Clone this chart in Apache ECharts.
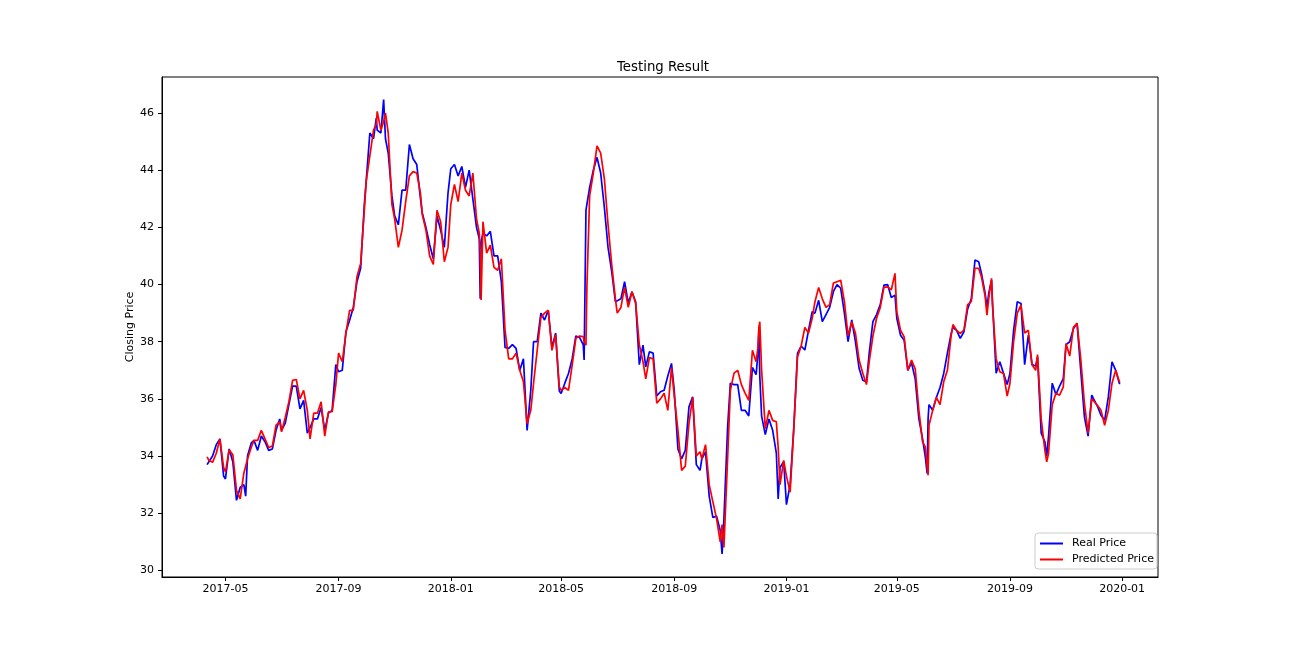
<!DOCTYPE html>
<html><head><meta charset="utf-8">
<script src="https://cdn.jsdelivr.net/npm/echarts@6.0.0/dist/echarts.min.js"></script>
<style>html,body{margin:0;padding:0;background:#fff}#c{width:1295px;height:648px}</style>
</head><body><div id="c"></div>
<script>
const dates = [
'2017-04-11','2017-04-13','2017-04-17','2017-04-21','2017-04-25','2017-04-29',
'2017-05-01','2017-05-05','2017-05-09','2017-05-13','2017-05-17','2017-05-21','2017-05-23','2017-05-25','2017-05-29',
'2017-06-01','2017-06-05','2017-06-09','2017-06-13','2017-06-17','2017-06-21','2017-06-25','2017-06-29',
'2017-07-01','2017-07-05','2017-07-09','2017-07-13','2017-07-17','2017-07-21','2017-07-25','2017-07-29',
'2017-08-01','2017-08-05','2017-08-09','2017-08-13','2017-08-17','2017-08-21','2017-08-25','2017-08-29',
'2017-09-01','2017-09-05','2017-09-09','2017-09-13','2017-09-17','2017-09-21','2017-09-25','2017-09-29',
'2017-10-01','2017-10-05','2017-10-09','2017-10-12','2017-10-13','2017-10-17','2017-10-20','2017-10-22','2017-10-25','2017-10-29',
'2017-11-01','2017-11-05','2017-11-09','2017-11-13','2017-11-17','2017-11-21','2017-11-25','2017-11-29',
'2017-12-01','2017-12-05','2017-12-09','2017-12-13','2017-12-17','2017-12-21','2017-12-25','2017-12-29',
'2018-01-01','2018-01-05','2018-01-09','2018-01-13','2018-01-17','2018-01-21','2018-01-25','2018-01-29',
'2018-02-01','2018-02-02','2018-02-03','2018-02-05','2018-02-09','2018-02-13','2018-02-17','2018-02-21','2018-02-25',
'2018-03-01','2018-03-05','2018-03-09','2018-03-13','2018-03-17','2018-03-21','2018-03-25','2018-03-29',
'2018-04-01','2018-04-05','2018-04-09','2018-04-13','2018-04-17','2018-04-21','2018-04-25','2018-04-29',
'2018-05-01','2018-05-05','2018-05-09','2018-05-13','2018-05-17','2018-05-21','2018-05-25','2018-05-26','2018-05-28','2018-05-29',
'2018-06-01','2018-06-05','2018-06-09','2018-06-13','2018-06-17','2018-06-21','2018-06-25','2018-06-29',
'2018-07-01','2018-07-05','2018-07-09','2018-07-13','2018-07-17','2018-07-21','2018-07-25','2018-07-29',
'2018-08-01','2018-08-05','2018-08-09','2018-08-13','2018-08-17','2018-08-21','2018-08-25','2018-08-29',
'2018-09-01','2018-09-05','2018-09-09','2018-09-13','2018-09-17','2018-09-21','2018-09-25','2018-09-29',
'2018-10-01','2018-10-05','2018-10-09','2018-10-13','2018-10-17','2018-10-21','2018-10-23','2018-10-25','2018-10-29',
'2018-11-01','2018-11-05','2018-11-09','2018-11-13','2018-11-17','2018-11-21','2018-11-25','2018-11-29',
'2018-12-01','2018-12-02','2018-12-03','2018-12-05','2018-12-09','2018-12-13','2018-12-17','2018-12-21','2018-12-23','2018-12-25','2018-12-29',
'2019-01-01','2019-01-05','2019-01-09','2019-01-13','2019-01-17','2019-01-21','2019-01-25','2019-01-29',
'2019-02-01','2019-02-05','2019-02-09','2019-02-13','2019-02-17','2019-02-21','2019-02-25',
'2019-03-01','2019-03-05','2019-03-09','2019-03-13','2019-03-17','2019-03-21','2019-03-25','2019-03-29',
'2019-04-01','2019-04-05','2019-04-09','2019-04-13','2019-04-17','2019-04-21','2019-04-25','2019-04-29',
'2019-05-01','2019-05-05','2019-05-09','2019-05-13','2019-05-17','2019-05-21','2019-05-25','2019-05-29',
'2019-06-01','2019-06-03','2019-06-04','2019-06-05','2019-06-09','2019-06-13','2019-06-17','2019-06-21','2019-06-25','2019-06-29',
'2019-07-01','2019-07-05','2019-07-09','2019-07-13','2019-07-17','2019-07-21','2019-07-25','2019-07-29',
'2019-08-01','2019-08-05','2019-08-07','2019-08-09','2019-08-12','2019-08-13','2019-08-17','2019-08-21','2019-08-25','2019-08-29',
'2019-09-01','2019-09-05','2019-09-09','2019-09-13','2019-09-17','2019-09-21','2019-09-25','2019-09-29',
'2019-10-01','2019-10-05','2019-10-09','2019-10-11','2019-10-13','2019-10-17','2019-10-21','2019-10-25','2019-10-29',
'2019-11-01','2019-11-05','2019-11-09','2019-11-13','2019-11-17','2019-11-21','2019-11-25','2019-11-29',
'2019-12-01','2019-12-05','2019-12-09','2019-12-13','2019-12-17','2019-12-21','2019-12-25','2019-12-29','2019-12-30'
];
const realPrice = [
33.7,33.8,34.0,34.4,34.6,33.3,
33.2,34.25,33.8,32.45,32.9,33.0,32.6,34.0,34.45,
34.55,34.2,34.7,34.5,34.2,34.25,34.9,35.3,
34.9,35.15,35.8,36.45,36.45,35.65,35.95,34.8,
35.0,35.3,35.3,35.7,34.9,35.5,35.6,37.2,
36.95,37.0,38.35,38.75,39.2,40.1,40.57,42.8,
43.6,45.3,45.1,45.82,45.4,45.3,46.47,45.1,44.6,43.1,
42.4,42.09,43.3,43.3,44.9,44.4,44.2,43.02,
42.5,42.0,41.4,40.9,42.4,41.9,41.3,43.2,
44.05,44.2,43.8,44.13,43.4,44.0,43.0,42.0,
41.6,39.5,41.5,41.8,41.7,41.86,41.0,41.0,40.1,
37.8,37.77,37.9,37.77,37.0,37.4,34.9,36.3,
38.0,38.0,39.0,38.76,39.1,37.8,38.3,36.28,
36.19,36.55,36.89,37.4,38.2,38.15,37.9,37.36,42.6,42.8,
43.4,44.0,44.45,43.9,42.7,41.3,40.45,39.4,
39.45,39.5,40.1,39.35,39.75,39.4,37.2,37.88,
37.12,37.65,37.6,36.1,36.25,36.3,36.8,37.24,
36.3,34.25,33.9,34.2,35.72,36.07,33.7,33.5,
33.9,34.15,32.6,31.85,31.9,31.4,30.58,31.8,35.0,
36.55,36.5,36.5,35.6,35.6,35.4,37.1,36.85,
37.6,38.4,36.8,35.4,34.75,35.3,34.9,34.1,32.5,33.6,33.8,
32.3,33.0,35.0,37.59,37.85,37.71,38.4,39.05,
39.0,39.45,38.7,38.95,39.2,39.75,40.0,
39.87,39.0,38.0,38.76,38.0,37.07,36.65,36.6,
37.6,38.7,38.95,39.3,39.98,40.0,39.55,39.63,
38.82,38.23,38.05,37.0,37.26,36.7,35.3,34.6,
33.97,33.39,35.3,35.8,35.6,36.05,36.4,36.89,37.6,38.27,
38.5,38.4,38.12,38.35,39.15,39.5,40.86,40.8,
40.4,39.7,39.2,39.7,40.16,39.4,36.9,37.3,36.9,36.5,
36.89,38.4,39.4,39.34,37.2,38.23,37.2,37.15,
37.47,34.8,34.5,34.0,34.7,36.55,36.15,36.45,36.71,
37.9,38.0,38.45,38.65,37.0,35.37,34.7,36.13,
36.0,35.75,35.43,35.25,36.07,37.3,37.0,36.54,36.54
];
const predictedPrice = [
33.97,33.85,33.78,34.1,34.6,33.6,
33.45,34.22,34.05,32.8,32.5,33.4,33.4,33.9,34.3,
34.55,34.55,34.9,34.6,34.3,34.35,35.08,35.2,
34.85,35.35,35.9,36.65,36.68,36.0,36.3,35.6,
34.6,35.5,35.5,35.9,34.7,35.55,35.55,36.5,
37.6,37.3,38.3,39.1,39.1,40.27,40.74,42.6,
43.6,44.5,45.4,45.6,46.06,45.4,45.7,46.0,45.3,42.8,
42.3,41.3,41.9,42.9,43.8,43.95,43.9,43.2,
42.45,41.9,41.0,40.7,42.6,42.2,40.8,41.3,
42.8,43.5,42.9,43.9,43.3,43.1,43.9,42.3,
41.8,41.2,39.46,42.2,41.1,41.38,40.6,40.5,40.9,
38.4,37.4,37.4,37.6,37.0,36.6,35.14,35.6,
36.54,37.71,38.85,39.0,39.1,37.7,38.25,36.42,
36.3,36.4,36.3,37.18,38.12,38.2,38.18,38.0,37.88,39.9,
43.1,43.9,44.85,44.6,43.7,42.1,40.7,39.5,
39.0,39.2,39.9,39.2,39.75,39.35,37.9,37.3,
36.7,37.45,37.4,35.85,36.0,36.2,35.6,37.1,
36.1,34.9,33.5,33.65,35.14,36.05,34.0,34.15,
33.9,34.4,33.0,32.4,31.81,31.0,31.6,30.8,33.9,
36.3,36.9,37.0,36.5,36.2,35.95,37.7,37.3,
37.8,38.5,38.7,37.0,34.96,35.6,35.25,35.2,34.3,33.0,33.85,
33.3,32.74,34.96,37.47,37.85,38.5,38.3,38.82,
39.4,39.9,39.5,39.2,39.3,40.05,40.1,
40.15,39.4,38.2,38.7,38.3,37.36,36.9,36.5,
37.3,38.2,38.82,39.2,39.9,39.92,39.81,40.39,
39.05,38.4,38.17,37.0,37.36,37.05,35.6,34.5,
34.32,34.3,33.33,35.08,35.6,36.05,35.8,36.6,37.0,38.2,
38.6,38.4,38.29,38.41,39.3,39.4,40.57,40.57,
40.27,39.6,38.93,39.52,40.22,39.3,37.4,36.95,36.89,36.1,
36.54,38.0,39.0,39.28,38.3,38.4,37.2,37.0,
37.55,35.3,34.2,33.8,34.1,35.8,36.2,36.13,36.42,
37.94,37.5,38.5,38.64,37.4,35.84,34.8,36.0,
36.05,35.78,35.6,35.08,35.6,36.55,37.0,36.6,36.6
];
const xTickLabels = ['2017-05','2017-09','2018-01','2018-05','2018-09','2019-01','2019-05','2019-09','2020-01'];
const yTickLabels = [30,32,34,36,38,40,42,44,46];

const toTs = s => new Date(s + 'T00:00:00').getTime();
const xTicks = xTickLabels.map(m => toTs(m + '-01'));
const FONT = 'DejaVu Sans';
const chart = echarts.init(document.getElementById('c'), null, {renderer: 'canvas'});
chart.setOption({
  animation: false,
  backgroundColor: '#ffffff',
  title: {
    text: 'Testing Result', left: 612, top: 56,
    textStyle: {fontFamily: FONT, fontSize: 13.3, fontWeight: 'normal', color: '#000'}
  },
  legend: {
    orient: 'vertical', left: 1035, top: 533,
    padding: [4, 3, 3, 5], itemGap: 3, itemWidth: 23, itemHeight: 2, icon: 'rect',
    borderColor: '#cccccc', borderWidth: 1, borderRadius: 3,
    backgroundColor: 'rgba(255,255,255,0.8)',
    textStyle: {fontFamily: FONT, fontSize: 11, color: '#000', padding: [0, 0, 0, 4], lineHeight: 13},
    data: ['Real Price', 'Predicted Price']
  },
  grid: {left: 162, right: 137, top: 77, bottom: 71, show: true, borderColor: '#000', borderWidth: 1},
  xAxis: {
    type: 'value', min: toTs('2017-02-21'), max: toTs('2020-02-09'), scale: true,
    splitLine: {show: false},
    axisLine: {lineStyle: {color: '#000', width: 1}},
    axisTick: {customValues: xTicks, length: 4, lineStyle: {color: '#000'}},
    axisLabel: {
      customValues: xTicks, margin: 7, color: '#000', fontFamily: FONT, fontSize: 11,
      formatter: v => { const d = new Date(v); return d.getFullYear() + '-' + String(d.getMonth() + 1).padStart(2, '0'); }
    }
  },
  yAxis: {
    type: 'value', min: 29.77, max: 47.26, scale: true,
    name: 'Closing Price', nameLocation: 'middle', nameGap: 26, nameMoveOverlap: false,
    nameTextStyle: {fontFamily: FONT, fontSize: 11, color: '#000'},
    splitLine: {show: false},
    axisLine: {show: true, lineStyle: {color: '#000', width: 1}},
    axisTick: {show: true, customValues: yTickLabels, length: 4, lineStyle: {color: '#000'}},
    axisLabel: {customValues: yTickLabels, margin: 8, color: '#000', fontFamily: FONT, fontSize: 11}
  },
  series: [
    {name: 'Real Price', type: 'line', showSymbol: false, symbol: 'none',
     data: dates.map((d, i) => [toTs(d), realPrice[i]]),
     lineStyle: {color: '#0000ff', width: 1.7}, itemStyle: {color: '#0000ff'}},
    {name: 'Predicted Price', type: 'line', showSymbol: false, symbol: 'none',
     data: dates.map((d, i) => [toTs(d), predictedPrice[i]]),
     lineStyle: {color: '#ff0000', width: 1.7}, itemStyle: {color: '#ff0000'}}
  ]
});
</script></body></html>
